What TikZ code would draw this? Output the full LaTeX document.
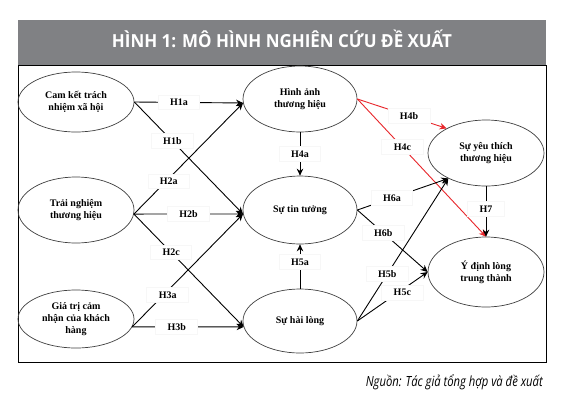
\documentclass[tikz,border=0pt]{standalone}
\usepackage{fontspec}
\setmainfont{Liberation Serif}
\newfontfamily\titlefont{Open Sans}
\usetikzlibrary{shapes.geometric,arrows.meta}
\definecolor{bargray}{RGB}{128,129,132}
\definecolor{hred}{RGB}{232,38,43}
\begin{document}
\begin{tikzpicture}[x=1pt,y=-1pt,
  ell/.style={ellipse, draw=black!75, line width=0.7pt, minimum width=116pt, minimum height=64pt,
    inner sep=0pt, align=center, font=\fontsize{10}{12}\selectfont\bfseries},
  lbl/.style={fill=white, draw=black!3, inner xsep=12pt, inner ysep=4pt, font=\fontsize{10}{12}\selectfont\bfseries},
  arr/.style={line width=0.9pt, -{Stealth[length=7pt,width=6.5pt]}},
  rarr/.style={arr, draw=hred}]
\useasboundingbox (0,0) rectangle (572,402);
\fill[white] (0,0) rectangle (572,402);
% title bar
\node[fill=bargray, minimum width=528pt, minimum height=45pt, anchor=north west, inner sep=0pt] (bar) at (18,20) {};
\node[anchor=base, text=white, inner sep=0pt, font=\titlefont\bfseries\fontsize{18}{20}\selectfont] (title) at (282,47)
  {\resizebox{340pt}{\height}{HÌNH 1: MÔ HÌNH NGHIÊN CỨU ĐỀ XUẤT}};
% frame
\draw[line width=0.9pt] (18,65) rectangle (546,362);
% ellipses
\node[ell, minimum height=60pt] (cam) at (76,102) {Cam kết trách\\nhiệm xã hội};
\node[ell, minimum height=66pt] (tn) at (76,210) {Trải nghiệm\\thương hiệu};
\node[ell, minimum height=58pt] (gt) at (76,319) {Giá trị cảm\\nhận của khách\\hàng};
\node[ell, minimum width=114pt, minimum height=66pt] (img) at (300,99) {Hình ảnh\\thương hiệu};
\node[ell, minimum width=114pt, minimum height=68pt] (trust) at (300,210) {Sự tin tưởng};
\node[ell, minimum width=114pt, minimum height=64pt] (sat) at (300,321) {Sự hài lòng};
\node[ell, minimum height=66pt] (like) at (486,153) {Sự yêu thích\\thương hiệu};
\node[ell, minimum height=70pt] (loyal) at (486,272) {Ý định lòng\\trung thành};
% left connectors
\draw[arr] (cam.east) -- node[lbl, pos=0.41] (l1a) {H1a} (img.184);
\draw[arr] (cam.east) -- node[lbl, pos=0.35] (l1b) {H1b} (trust.184);
\draw[arr] (tn.-4) -- node[lbl, pos=0.32, yshift=-3pt] (l2a) {H2a} (img.184);
\draw[arr] (tn.-4) -- node[lbl, pos=0.5] (l2b) {H2b} (trust.184);
\draw[arr] (tn.-4) -- node[lbl, pos=0.34] (l2c) {H2c} (sat.186);
\draw[arr] (gt.-8) -- node[lbl, pos=0.32, yshift=-4pt] (l3a) {H3a} (trust.184);
\draw[arr] (gt.-8) -- node[lbl, pos=0.4] (l3b) {H3b} (sat.186);
% vertical connectors
\draw[arr] (img.south) -- node[lbl, pos=0.5] (l4a) {H4a} (trust.north);
\draw[arr] (sat.north) -- node[lbl, pos=0.6] (l5a) {H5a} (trust.south);
% red connectors
\draw[rarr] (img.east) -- node[lbl, pos=0.58] (l4b) {H4b} (like.148);
\draw[rarr] (img.east) -- node[lbl, pos=0.35] (l4c) {H4c} (loyal.north);
% right connectors
\draw[arr] (trust.east) -- node[lbl, pos=0.38] (l6a) {H6a} (like.214);
\draw[arr] (trust.east) -- node[lbl, pos=0.37] (l6b) {H6b} (loyal.west);
\draw[arr] (sat.east) -- node[lbl, pos=0.33] (l5b) {H5b} (like.214);
\draw[arr] (sat.east) -- node[lbl, pos=0.64, yshift=-3pt] (l5c) {H5c} (loyal.west);
\draw[arr] (like.south) -- node[lbl, pos=0.45] (l7) {H7} (loyal.north);
% source
\node[anchor=base east, inner sep=0pt, font=\titlefont\itshape\fontsize{14}{16}\selectfont] (src) at (543,386)
  {\resizebox{177pt}{\height}{Nguồn: Tác giả tổng hợp và đề xuất}};
\end{tikzpicture}
\end{document}
